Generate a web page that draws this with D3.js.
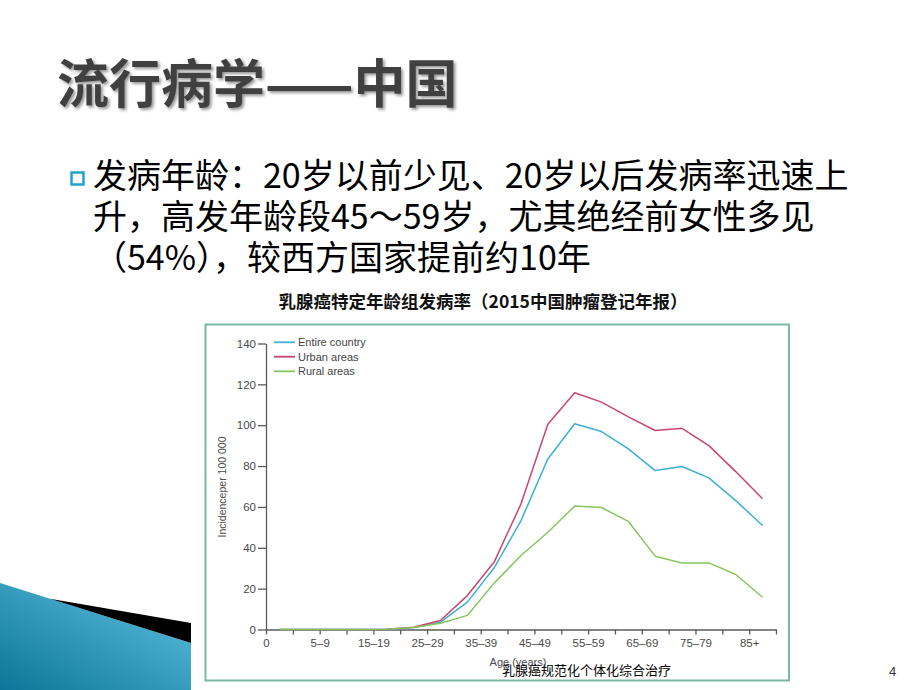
<!DOCTYPE html>
<html><head><meta charset="utf-8">
<script src="https://cdn.jsdelivr.net/npm/d3@7"></script>
<style>body{margin:0;background:#fff}svg{display:block}</style>
</head><body>
<svg id="c" width="920" height="690"></svg>
<script>
const ageGroups = ["0","1–4","5–9","10–14","15–19","20–24","25–29","30–34","35–39","40–44","45–49","50–54","55–59","60–64","65–69","70–74","75–79","80–84","85+"];
const entireCountry = [0,0,0,0,0.1,1.0,3.6,13.4,30.2,53.3,83.5,100.7,96.9,88.4,77.8,79.8,74.2,63.1,50.9];
const urbanAreas    = [0,0,0,0,0.1,1.1,4.4,16.6,33.0,61.5,100.5,115.9,111.3,104.1,97.4,98.5,90.0,77.3,64.0];
const ruralAreas    = [0,0,0,0,0.1,1.0,3.1,6.9,22.7,36.2,47.6,60.4,59.7,52.9,35.9,32.6,32.6,26.9,15.8];
const yTicks = [0,20,40,60,80,100,120,140];
const seriesNames = ["Entire country","Urban areas","Rural areas"];
const seriesColors = ["#3eb0d4","#c8466c","#88c55e"];
const titleText = "流行病学——中国";
const bodyLines = ["发病年龄：20岁以前少见、20岁以后发病率迅速上","升，高发年龄段45～59岁，尤其绝经前女性多见","（54%），较西方国家提前约10年"];
const chartTitle = "乳腺癌特定年龄组发病率（2015中国肿瘤登记年报）";
const footerText = "乳腺癌规范化个体化综合治疗";

const svg = d3.select("#c");
const defs = svg.append("defs");
const f = defs.append("filter").attr("id","sh").attr("x","-10%").attr("y","-20%").attr("width","130%").attr("height","150%");
f.append("feDropShadow").attr("dx",2).attr("dy",2).attr("stdDeviation",1.6).attr("flood-color","#8a8a8a").attr("flood-opacity",0.9);
const g = defs.append("linearGradient").attr("id","bg").attr("x1",0).attr("y1",1).attr("x2",1).attr("y2",0);
g.append("stop").attr("offset","0%").attr("stop-color","#0b7697");
g.append("stop").attr("offset","100%").attr("stop-color","#62c2e4");

// left decoration
svg.append("path").attr("d","M0,583 L191,643 L191,690 L0,690 Z").attr("fill","url(#bg)");
svg.append("path").attr("d","M50,598.7 L191,623 L191,643 Z").attr("fill","#000");

// title
svg.append("text").attr("x",57).attr("y",103).attr("font-family","'Noto Sans CJK SC'")
  .attr("font-weight","bold").attr("font-size",52).attr("fill","#404040").attr("filter","url(#sh)").text(titleText);

// bullet
svg.append("rect").attr("x",71.5).attr("y",172.5).attr("width",12).attr("height",12).attr("fill","#fff").attr("stroke","#23a3cc").attr("stroke-width",2.5);

// body text
svg.selectAll("text.body").data(bodyLines).enter().append("text").attr("class","body")
  .attr("x",93).attr("y",(d,i)=>188+i*41).attr("font-family","'Noto Sans CJK SC'")
  .attr("font-size",34).attr("fill","#000").text(d=>d);

// chart title
svg.append("text").attr("x",483).attr("y",307.5).attr("text-anchor","middle").attr("font-family","'Noto Sans CJK SC'")
  .attr("font-weight","bold").attr("font-size",17.5).attr("fill","#111").text(chartTitle);

// frame
svg.append("rect").attr("x",205.5).attr("y",324.5).attr("width",583.5).attr("height",356).attr("fill","#fff").attr("stroke","#78b9a0").attr("stroke-width",2);

const x = d3.scaleLinear().domain([0, ageGroups.length]).range([266, 776]);
const y = d3.scaleLinear().domain([0,140]).range([629.5, 343.5]);
const font = "'Liberation Sans', Arial, sans-serif";
const axisCol = "#5a5a5a";

const ya = svg.append("g").attr("transform","translate(266,0)")
  .call(d3.axisLeft(y).tickValues(yTicks).tickSize(8).tickSizeOuter(0).tickPadding(2));
const xa = svg.append("g").attr("transform","translate(0,629.5)")
  .call(d3.axisBottom(x).tickValues(d3.range(0, ageGroups.length+1)).tickSize(5).tickSizeOuter(0).tickPadding(4)
    .tickFormat(i => (i%2===0 && i<ageGroups.length) ? ageGroups[i] : ""));
[ya,xa].forEach(a=>{
  a.selectAll("path,line").attr("stroke",axisCol).attr("stroke-width",1.3);
  a.selectAll("text").attr("fill","#4a4a4a").attr("font-family",font).attr("font-size",11.5);
});

svg.append("text").attr("transform","translate(226,487) rotate(-90)").attr("text-anchor","middle")
  .attr("font-family",font).attr("font-size",10.5).attr("fill","#4a4a4a").text("Incidenceper 100 000");
svg.append("text").attr("x",518).attr("y",666).attr("text-anchor","middle")
  .attr("font-family",font).attr("font-size",11).attr("fill","#4a4a4a").text("Age (years)");

const line = d3.line().x((d,i)=>x(i+0.5)).y(d=>y(d));
[entireCountry, urbanAreas, ruralAreas].forEach((s,k)=>{
  svg.append("path").datum(s).attr("d",line).attr("fill","none").attr("stroke",seriesColors[k]).attr("stroke-width",1.5).attr("stroke-linejoin","round");
});

// legend
const ly = [342.3, 356.7, 371.3];
seriesNames.forEach((n,k)=>{
  svg.append("line").attr("x1",274).attr("x2",295).attr("y1",ly[k]).attr("y2",ly[k]).attr("stroke",seriesColors[k]).attr("stroke-width",1.8);
  svg.append("text").attr("x",298).attr("y",ly[k]).attr("dy","0.35em").attr("font-family",font).attr("font-size",11).attr("fill","#444").text(n);
});

// footer
svg.append("text").attr("x",502).attr("y",675).attr("font-family","'Noto Sans CJK SC'").attr("font-size",13).attr("fill","#000").text(footerText);
svg.append("text").attr("x",889).attr("y",676).attr("font-family",font).attr("font-size",13).attr("fill","#333").text("4");
</script>
</body></html>
